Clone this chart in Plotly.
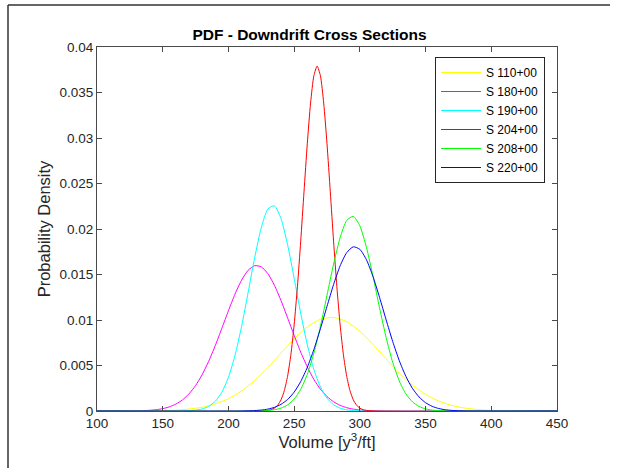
import plotly.graph_objects as go

# ---- data ----
names = ["S 110+00", "S 180+00", "S 190+00", "S 204+00", "S 208+00", "S 220+00"]
colors = ["#FFFF00", "#FF00FF", "#00FFFF", "#FF0000", "#00FF00", "#0000FF"]

x_110 = [100, 130, 140, 150, 160, 170, 180, 190, 200, 210, 220, 230, 240, 250, 260, 270, 280,
         290, 300, 310, 320, 330, 340, 350, 360, 370, 380, 390, 400, 410, 420, 430, 450]
y_110 = [0, 0, 0.0000178, 0.0000434, 0.0000986, 0.000210, 0.000417, 0.000776, 0.001351, 0.002200,
         0.003351, 0.004773, 0.006360, 0.007928, 0.009244, 0.010083, 0.010286, 0.009817, 0.008763,
         0.007317, 0.005717, 0.004177, 0.002854, 0.001824, 0.001092, 0.000610, 0.000319, 0.000156,
         0.0000716, 0.0000307, 0.0000123, 0, 0]

x_180 = [100, 130, 140, 145, 150, 155, 160, 165, 170, 175, 180, 185, 190, 195, 200, 205, 210, 215,
         220, 225, 230, 235, 240, 245, 250, 255, 260, 265, 270, 275, 280, 285, 290, 295, 300, 305,
         310, 320, 450]
y_180 = [0, 0, 0.0000755, 0.000143, 0.000259, 0.000452, 0.000758, 0.001219, 0.001885, 0.002797,
         0.003990, 0.005466, 0.007189, 0.009082, 0.011021, 0.012845, 0.014381, 0.015464, 0.015971,
         0.015843, 0.015094, 0.013813, 0.012141, 0.010250, 0.008311, 0.006472, 0.004842, 0.003479,
         0.002400, 0.001591, 0.001013, 0.000619, 0.000364, 0.000205, 0.000111, 0.0000578,
         0.0000289, 0, 0]

x_190 = [100, 165, 175, 180, 185, 190, 195, 200, 205, 210, 215, 220, 225, 230, 235, 240, 245, 250,
         255, 260, 265, 270, 275, 280, 285, 290, 295, 305, 450]
y_190 = [0, 0, 0.0000903, 0.000223, 0.000508, 0.001068, 0.002069, 0.003699, 0.006102, 0.009285,
         0.013030, 0.016869, 0.020147, 0.022197, 0.022558, 0.021148, 0.018289, 0.014589, 0.010736,
         0.007288, 0.004564, 0.002636, 0.001405, 0.000691, 0.000313, 0.000131, 0.0000505, 0, 0]

x_204 = [100, 222.5, 230, 232.5, 235, 237.5, 240, 242.5, 245, 247.5, 250, 252.5, 255, 257.5, 260,
         262.5, 265, 267.5, 270, 272.5, 275, 277.5, 280, 282.5, 285, 287.5, 290, 292.5, 295, 297.5,
         300, 302.5, 305, 312.5, 450]
y_204 = [0, 0, 0.0000644, 0.000147, 0.000315, 0.000640, 0.001228, 0.002227, 0.003817, 0.006177,
         0.009452, 0.013660, 0.018659, 0.024081, 0.029365, 0.033837, 0.036843, 0.037900, 0.036843,
         0.033837, 0.029365, 0.024081, 0.018659, 0.013660, 0.009452, 0.006177, 0.003817, 0.002227,
         0.001228, 0.000640, 0.000315, 0.000147, 0.0000644, 0, 0]

x_208 = [100, 220, 230, 235, 240, 245, 250, 255, 260, 265, 270, 275, 280, 285, 290, 295, 300, 305,
         310, 315, 320, 325, 330, 335, 340, 345, 350, 355, 360, 370, 450]
y_208 = [0, 0, 0.0000575, 0.000140, 0.000317, 0.000667, 0.001306, 0.002379, 0.004031, 0.006356,
         0.009322, 0.012719, 0.016143, 0.019062, 0.020940, 0.021399, 0.020344, 0.017993, 0.014802,
         0.011330, 0.008068, 0.005345, 0.003294, 0.001888, 0.001007, 0.000500, 0.000231, 0.0000990,
         0.0000395, 0, 0]

x_220 = [100, 210, 220, 225, 230, 235, 240, 245, 250, 255, 260, 265, 270, 275, 280, 285, 290, 295,
         300, 305, 310, 315, 320, 325, 330, 335, 340, 345, 350, 355, 360, 365, 370, 375, 385, 450]
y_220 = [0, 0, 0.0000488, 0.000104, 0.000209, 0.000400, 0.000729, 0.001260, 0.002069, 0.003231,
         0.004791, 0.006753, 0.009041, 0.011499, 0.013895, 0.015956, 0.017406, 0.018042, 0.017767,
         0.016623, 0.014777, 0.012479, 0.010014, 0.007634, 0.005530, 0.003807, 0.002489, 0.001546,
         0.000912, 0.000512, 0.000273, 0.000138, 0.0000664, 0.0000303, 0, 0]

xs = [x_110, x_180, x_190, x_204, x_208, x_220]
ys = [y_110, y_180, y_190, y_204, y_208, y_220]

x_ticks = [100, 150, 200, 250, 300, 350, 400, 450]
y_ticks = [0, 0.005, 0.01, 0.015, 0.02, 0.025, 0.03, 0.035, 0.04]
y_tick_text = ["0", "0.005", "0.01", "0.015", "0.02", "0.025", "0.03", "0.035", "0.04"]

# ---- figure ----
FONT = "Liberation Sans, Arial, Helvetica, sans-serif"
AX = "#4a4a4a"

fig = go.Figure()
for n, c, x, y in zip(names, colors, xs, ys):
    fig.add_trace(go.Scatter(x=x, y=y, mode="lines", name=n,
                             line=dict(color=c, width=1, shape="spline", smoothing=0.6)))

W, H = 619, 468
L, R, T, B = 97, 62, 47, 57
pw, ph = W - L - R, H - T - B

def px(xp):
    return (xp - L) / pw

def py(yp):
    return (H - B - yp) / ph

fig.update_layout(
    width=W, height=H,
    margin=dict(l=L, r=R, t=T, b=B, pad=0),
    paper_bgcolor="white", plot_bgcolor="white",
    font=dict(family=FONT, size=13, color="#262626"),
    title=dict(text="<b>PDF - Downdrift Cross Sections</b>", x=px(327), xanchor="center",
               y=1 - 35 / H, yanchor="middle", font=dict(size=15.5, color="#000000")),
    showlegend=True,
    legend=dict(x=px(545), xanchor="right", y=py(57), yanchor="top",
                bgcolor="white", bordercolor="#262626", borderwidth=1,
                font=dict(size=12, color="#000000"), tracegroupgap=0,
                itemwidth=40),
    xaxis=dict(range=[100, 450], tickvals=x_ticks, ticks="inside", ticklen=5,
               tickcolor=AX, showline=True, linecolor=AX, linewidth=1, mirror="allticks",
               showgrid=False, zeroline=False, tickfont=dict(size=13.5, color="#262626"),
               title=dict(text="Volume [y<sup>3</sup>/ft]", font=dict(size=16.5, color="#262626"),
                          standoff=3)),
    yaxis=dict(range=[0, 0.04], tickvals=y_ticks, ticktext=y_tick_text, ticks="inside",
               ticklen=5, tickcolor=AX, showline=True, linecolor=AX, linewidth=1,
               mirror="allticks", showgrid=False, zeroline=False,
               tickfont=dict(size=13.5, color="#262626"),
               title=dict(text="Probability Density", font=dict(size=16.5, color="#262626"),
                          standoff=4)),
    shapes=[
        dict(type="line", xref="paper", yref="paper", x0=px(8), x1=px(610), y0=py(5), y1=py(5),
             line=dict(color="#333333", width=1.5)),
        dict(type="line", xref="paper", yref="paper", x0=px(8), x1=px(8), y0=py(5), y1=py(470),
             line=dict(color="#333333", width=1.5)),
    ],
)

fig.write_html("out.html", config={"displayModeBar": False},
               post_script="document.body.style.margin='0';document.body.style.padding='0';")
